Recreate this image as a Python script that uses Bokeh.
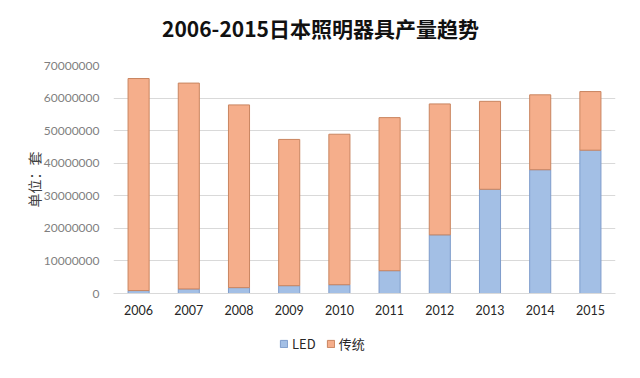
from bokeh.plotting import figure
from bokeh.models import (ColumnDataSource, Range1d, FixedTicker, NumeralTickFormatter,
                          Legend, LegendItem, Label)
from bokeh.layouts import column
from bokeh.embed import file_html
from bokeh.resources import INLINE

# ---- data (units: 套) ----
years = ["2006", "2007", "2008", "2009", "2010", "2011", "2012", "2013", "2014", "2015"]
led = [900000, 1400000, 1800000, 2400000, 2700000, 7000000, 18000000, 32000000, 38000000, 44000000]
total = [66000000, 64600000, 57900000, 47300000, 48900000, 54000000, 58200000, 59000000, 61000000, 62000000]
traditional = [t - l for t, l in zip(total, led)]
y_ticks = [0, 10000000, 20000000, 30000000, 40000000, 50000000, 60000000, 70000000]

title_text = "2006-2015日本照明器具产量趋势"
y_label = "单位：套"
series_names = ["LED", "传统"]
fills = ["#a3bfe5", "#f5ae8b"]
lines = ["#7e9ccb", "#c98560"]

W = 640
FL, FR = 113, 615   # frame left / right in page pixels (strip frames align to it)

def bare(h):
    f = figure(output_backend="svg", toolbar_location=None, width=W, height=h,
               x_range=Range1d(FL, FR), y_range=Range1d(0, h),
               x_axis_location=None, y_axis_location=None, min_border=0)
    f.grid.grid_line_color = None
    f.outline_line_color = None
    f.background_fill_color = "white"
    f.border_fill_color = "white"
    return f

# ---- title strip ----
pt = bare(57)
pt.add_layout(Label(x=320, y=30, text=title_text, text_align="center", text_baseline="middle",
                    text_font="Noto Sans CJK SC", text_font_style="bold",
                    text_font_size="21px", text_color="#111111"))

# ---- main chart ----
idx = list(range(len(years)))
src = ColumnDataSource(dict(x=idx, led=led, traditional=traditional))

p = figure(output_backend="svg", toolbar_location=None,
           frame_width=FR - FL, frame_height=228,
           min_border_left=FL, min_border_right=W - FR, min_border_top=8, min_border_bottom=37,
           x_range=Range1d(-0.5, len(years) - 0.5), y_range=Range1d(0, 70000000))
p.outline_line_color = None
p.background_fill_color = "white"
p.border_fill_color = "white"

r = p.vbar_stack(["led", "traditional"], x="x", width=0.42, source=src,
                 fill_color=fills, line_color=lines, line_width=1)

p.xaxis.ticker = FixedTicker(ticks=idx)
p.xaxis.major_label_overrides = {i: y for i, y in zip(idx, years)}
p.xaxis.major_tick_line_color = None
p.xaxis.minor_tick_line_color = None
p.xaxis.axis_line_color = "#d9d9d9"
p.xaxis.major_label_text_font = "Lato"
p.xaxis.major_label_text_font_size = "12.5px"
p.xaxis.major_label_text_color = "#262626"
p.xaxis.major_label_standoff = 5

p.yaxis.ticker = FixedTicker(ticks=y_ticks)
p.yaxis.formatter = NumeralTickFormatter(format="0")
p.yaxis.major_tick_line_color = None
p.yaxis.minor_tick_line_color = None
p.yaxis.axis_line_color = None
p.yaxis.major_label_text_font = "Lato"
p.yaxis.major_label_text_font_size = "12px"
p.yaxis.major_label_text_color = "#7f7f7f"
p.yaxis.major_label_standoff = 8
p.yaxis.axis_label = y_label
p.yaxis.axis_label_text_font = "Noto Sans CJK SC"
p.yaxis.axis_label_text_font_style = "normal"
p.yaxis.axis_label_text_font_size = "14px"
p.yaxis.axis_label_text_color = "#404040"
p.yaxis.axis_label_standoff = -3

p.xgrid.grid_line_color = None
p.ygrid.grid_line_color = "#d9d9d9"
p.ygrid.ticker = FixedTicker(ticks=y_ticks)

# ---- legend strip ----
pl = bare(48)
dummy = [pl.vbar(x=[-1e6], bottom=[-1e6 - 1], top=[-1e6], width=0.4,
                 fill_color=fills[i], line_color=lines[i])
         for i in range(2)]
legend = Legend(items=[LegendItem(label=series_names[i], renderers=[dummy[i]]) for i in range(2)],
                orientation="horizontal", location=(279 - FL, 25))
legend.glyph_width = 9
legend.glyph_height = 9
legend.label_standoff = 4
legend.spacing = 10
legend.padding = 0
legend.margin = 0
legend.border_line_color = None
legend.background_fill_alpha = 0
legend.label_text_font = "Noto Sans CJK SC"
legend.label_text_font_size = "13px"
legend.label_text_color = "#262626"
pl.add_layout(legend)

layout = column(pt, p, pl, spacing=0)
open("out.html", "w").write(file_html(layout, INLINE))
